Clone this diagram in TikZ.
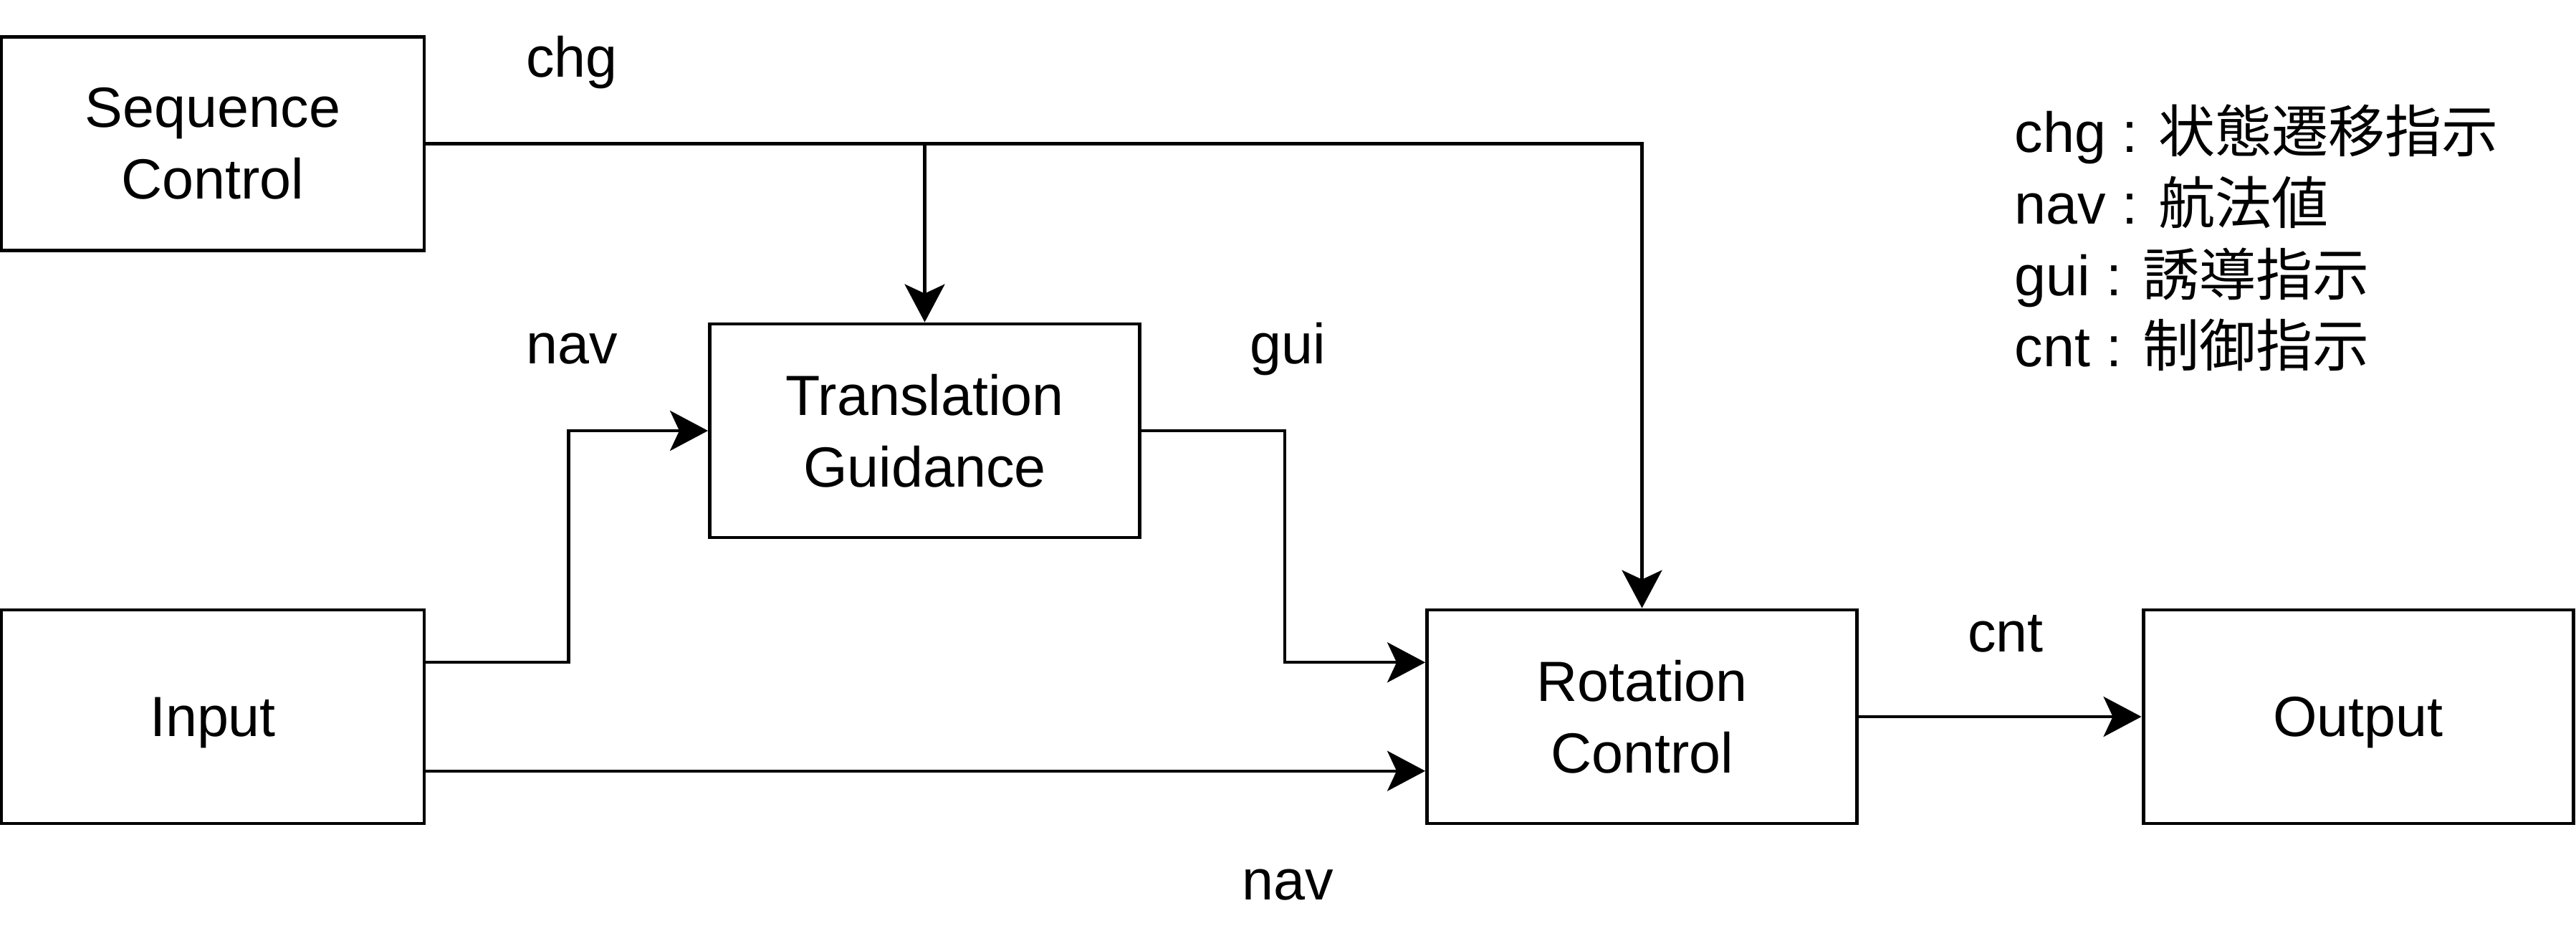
\documentclass[tikz,border=0pt]{standalone}
\usepackage{fontspec}
\setmainfont{Liberation Sans}
\newfontfamily\cjk{Noto Sans CJK JP}
\usetikzlibrary{positioning,arrows.meta,calc}
\tikzset{
  blok/.style={draw,line width=1.4pt,minimum width=6cm,minimum height=2.98cm,align=center,inner sep=0pt},
  hrana/.style={line width=1.2pt},
  sip/.style={hrana,-{Stealth[length=5.3mm,width=5.6mm,inset=1.3mm]}},
  popis/.style={inner sep=0pt},
}

\begin{document}
\begin{tikzpicture}[font=\fontsize{22.5}{28.4}\selectfont]
  \useasboundingbox (0,0) rectangle (35.95,-13.05);
  \node[blok,minimum width=5.9cm] (sc) at (2.97,-2.005) {Sequence\\Control};
  \node[blok] (tg) at (12.905,-6.01) {Translation\\Guidance};
  \node[blok,minimum width=5.9cm,text depth=0pt] (inp) at (2.97,-10) {Input};
  \node[blok] (rc) at (22.915,-10) {Rotation\\Control};
  \node[blok,text depth=0pt] (out) at (32.91,-10) {Output};
  % chg
  \coordinate (odb) at (tg.north |- sc.east);
  \draw[sip] (sc.east) -| (rc.north);
  \draw[sip] (odb) -- (tg.north);
  % nav
  \draw[sip] ($(inp.east)!0.5!(inp.north east)$) -- ++(1.99,0) |- (tg.west);
  \draw[sip] ($(inp.east)!0.5!(inp.south east)$) -- ($(rc.west)!0.5!(rc.south west)$);
  % gui, cnt
  \draw[sip] (tg.east) -- ++(2,0) |- ($(rc.west)!0.5!(rc.north west)$);
  \draw[sip] (rc.east) -- (out.west);
  \node[popis] (lchg) at (7.98,-0.87) {chg};
  \node[popis] (lnav) at (7.98,-4.87) {nav};
  \node[popis] (lgui) at (17.97,-4.87) {gui};
  \node[popis] (lcnt) at (27.99,-8.84) {cnt};
  \node[popis] (lnav2) at (17.97,-12.35) {nav};
  \node[popis,anchor=west,align=left] (leg) at (28.11,-3.32)
    {chg : {\cjk 状態遷移指示}\\nav : {\cjk 航法値}\\gui : {\cjk 誘導指示}\\cnt : {\cjk 制御指示}};
\end{tikzpicture}
\end{document}
